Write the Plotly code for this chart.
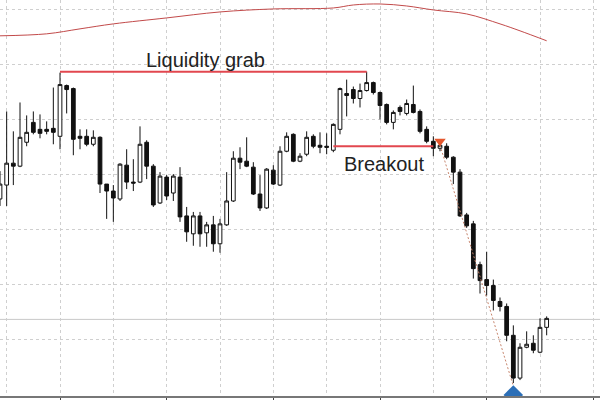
import plotly.graph_objects as go

# ---- data (price units) ----
opens = [200, 214, 236, 233, 257, 277, 270, 270, 271, 263,
         314, 311, 263, 263, 255, 262, 215, 208, 200, 234,
         217, 217, 257, 233, 196, 222, 206, 222, 183, 165,
         183, 166, 174, 155, 174, 198, 241, 238, 232, 205,
         191, 229, 214, 248, 265, 238, 245, 263, 254, 253,
         249, 270, 306, 310, 301, 309, 317, 307, 295, 277,
         292, 286, 295, 288, 270, 258, 251, 253, 242, 227,
         184, 175, 134, 119, 113, 97, 92, 63, 20, 51,
         55, 46, 71]
highs = [228, 288, 268, 297, 284, 288, 285, 278, 312, 327,
         315, 312, 270, 270, 269, 263, 215, 214, 236, 250,
         240, 273, 259, 235, 227, 224, 225, 232, 192, 187,
         187, 177, 183, 180, 227, 248, 252, 262, 237, 224,
         231, 234, 253, 267, 266, 246, 268, 265, 267, 266,
         276, 312, 320, 313, 316, 328, 318, 308, 296, 289,
         294, 300, 314, 290, 273, 263, 256, 256, 243, 230,
         186, 178, 137, 147, 119, 101, 95, 73, 55, 67,
         63, 80, 82]
lows = [193, 193, 214, 232, 253, 265, 261, 265, 255, 250,
        286, 244, 250, 253, 253, 206, 180, 177, 198, 210,
        208, 216, 220, 192, 195, 199, 198, 177, 157, 153,
        152, 152, 147, 146, 173, 197, 230, 232, 204, 188,
        190, 214, 213, 247, 237, 237, 243, 251, 246, 245,
        247, 265, 283, 296, 292, 308, 305, 280, 275, 270,
        284, 284, 286, 266, 256, 243, 248, 240, 215, 182,
        171, 120, 105, 103, 88, 87, 57, 15, 18, 50,
        45, 45, 63]
closes = [215, 236, 233, 262, 267, 267, 266, 268, 267, 315,
          310, 260, 261, 255, 262, 215, 208, 201, 235, 217,
          216, 255, 233, 194, 223, 203, 223, 182, 167, 183,
          165, 174, 155, 175, 198, 241, 237, 233, 205, 191,
          230, 215, 248, 263, 238, 243, 262, 253, 252, 252,
          275, 311, 304, 301, 309, 317, 307, 294, 277, 287,
          288, 296, 287, 268, 258, 251, 254, 242, 227, 183,
          173, 130, 118, 113, 98, 92, 63, 20, 51, 54,
          48, 71, 80]
bars = list(range(len(opens)))

# moving-average curve (bar index, level)
ma_x = [0, 7, 12, 17, 25, 33, 41, 50, 53, 57, 61, 65, 70, 75, 78, 82]
ma_y = [364, 366, 371, 376, 382, 388, 391, 392, 395, 396, 394, 390, 386, 376, 369, 359]

# levels / annotations
grab_start, grab_end, grab_level = 9, 55, 328
brk_start, brk_end, brk_level = 50, 65, 253
sell_bar, sell_level = 66, 258
target_bar, target_level = 77, 3
path_x = [66, 77]
path_y = [254, 12]
current_price = 79

RED = "#e2474f"
GRID = "#cfcfcf"

fig = go.Figure()

fig.add_trace(go.Candlestick(
    x=bars, open=opens, high=highs, low=lows, close=closes,
    increasing=dict(line=dict(color="#111111", width=1), fillcolor="#ffffff"),
    decreasing=dict(line=dict(color="#111111", width=1), fillcolor="#111111"),
    whiskerwidth=0, showlegend=False, hoverinfo="skip",
))

fig.add_trace(go.Scatter(x=ma_x, y=ma_y, mode="lines", line=dict(color="#c24a4a", width=1, shape="spline"),
                         showlegend=False, hoverinfo="skip"))

fig.add_trace(go.Scatter(x=[grab_start, grab_end], y=[grab_level, grab_level], mode="lines",
                         line=dict(color=RED, width=2), showlegend=False, hoverinfo="skip"))
fig.add_trace(go.Scatter(x=[brk_start, brk_end], y=[brk_level, brk_level], mode="lines",
                         line=dict(color=RED, width=2), showlegend=False, hoverinfo="skip"))

fig.add_trace(go.Scatter(x=path_x, y=path_y, mode="lines",
                         line=dict(color="#c8866e", width=1, dash="2px,2px"), showlegend=False, hoverinfo="skip"))

fig.add_trace(go.Scatter(x=[sell_bar], y=[sell_level], mode="markers",
                         marker=dict(symbol="triangle-down", size=10, color="#e4572e"),
                         showlegend=False, hoverinfo="skip"))
fig.add_trace(go.Scatter(x=[target_bar], y=[target_level], mode="markers",
                         marker=dict(symbol="diamond", size=15, color="#2c6fb7"),
                         showlegend=False, hoverinfo="skip"))

fig.add_hline(y=current_price, line=dict(color="#c8c8c8", width=1), layer="below")

fig.add_annotation(x=30.8, y=340, text="Liquidity grab", showarrow=False,
                   font=dict(family="Liberation Sans, Arial", size=20, color="#222222"))
fig.add_annotation(x=57.6, y=235, text="Breakout", showarrow=False,
                   font=dict(family="Liberation Sans, Arial", size=20, color="#222222"))

fig.update_layout(
    width=600, height=400,
    margin=dict(l=0, r=0, t=0, b=2),
    paper_bgcolor="#ffffff", plot_bgcolor="#ffffff",
    showlegend=False,
    boxgap=0.2,
    xaxis=dict(range=[0, 90], rangeslider=dict(visible=False), showticklabels=False,
               tick0=9, dtick=16, ticks="outside", ticklen=4, tickcolor="#444444",
               showgrid=True, gridcolor=GRID, griddash="3px,3px", gridwidth=1,
               minor=dict(tick0=1, dtick=8, showgrid=True, gridcolor=GRID, griddash="3px,3px"),
               showline=True, linecolor="#777777", linewidth=2, zeroline=False, fixedrange=True),
    yaxis=dict(range=[2, 400], showticklabels=False, tick0=3, dtick=55.4,
               showgrid=True, gridcolor=GRID, griddash="3px,3px", gridwidth=1,
               zeroline=False, showline=False, fixedrange=True),
)

fig.write_html("out.html", config={"displayModeBar": False, "staticPlot": True},
               post_script="document.body.style.margin='0';document.body.style.overflow='hidden';")
